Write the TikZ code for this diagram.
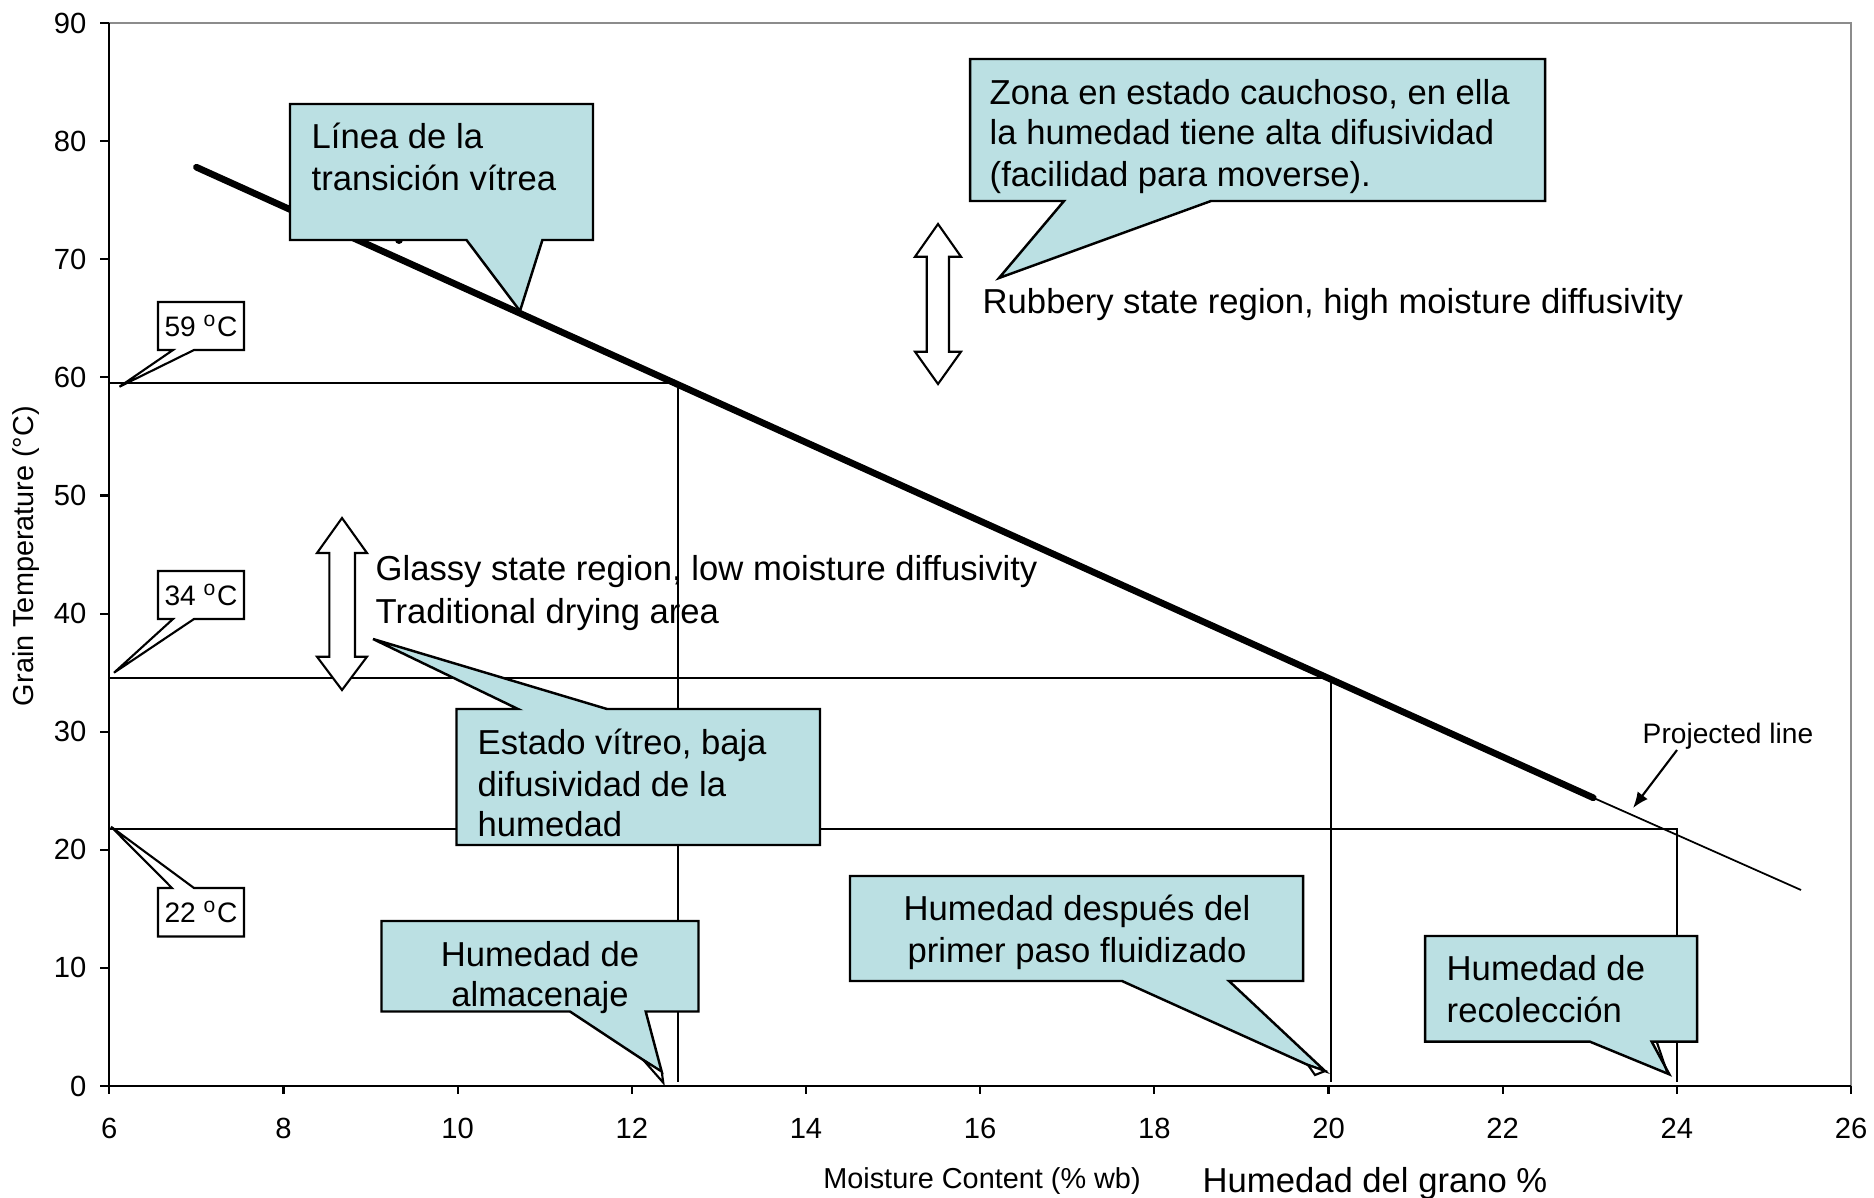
\documentclass[tikz,border=0pt]{standalone}
\usepackage{fontspec}
\setmainfont{Liberation Sans}
\usetikzlibrary{arrows.meta}
\definecolor{cfill}{RGB}{187,224,227}
\definecolor{framegray}{RGB}{140,140,140}
\begin{document}
\begin{tikzpicture}[x=0.01cm,y=-0.01cm,
  axisline/.style={line width=0.6pt,draw=black},
  guide/.style={line width=0.6pt},
  thickline/.style={line width=1.9pt,line cap=round},
  callout/.style={fill=cfill,draw=black,line width=0.7pt,line join=miter},
  tempbox/.style={fill=white,draw=black,line width=0.6pt,line join=miter},
  blockarrow/.style={fill=white,draw=black,line width=0.6pt,line join=miter},
  maintext/.style={font=\fontsize{9.85}{11.7}\selectfont,inner sep=0pt},
  ticklab/.style={font=\fontsize{8.3}{9.5}\selectfont,inner sep=0pt},
  smalltext/.style={font=\fontsize{8}{9.5}\selectfont,inner sep=0pt},
  axtitle/.style={font=\fontsize{8.2}{10}\selectfont,inner sep=0pt}]
\useasboundingbox (0,0) rectangle (1874,1197);

% plot frame
\draw[line width=0.6pt,framegray] (109.3,23) -- (1851,23) -- (1851,1086);
\draw[axisline] (109.3,23) -- (109.3,1086) -- (1851,1086);

% ticks and labels
\foreach \i in {0,...,10}{
  \pgfmathtruncatemacro\lab{6+2*\i}
  \draw[axisline] ({109.3+\i*174.17},1086) -- ({109.3+\i*174.17},1094);
  \node[ticklab] (xl\i) at ({109.3+\i*174.17},1128) {\lab};
}
\foreach \j in {0,...,9}{
  \pgfmathtruncatemacro\lab{10*\j}
  \draw[axisline] (100,{1086-\j*118.1}) -- (109.3,{1086-\j*118.1});
  \node[ticklab,anchor=east] (yl\j) at (87,{1086-\j*118.1}) {\lab};
}

% axis titles
\node[axtitle,rotate=90] (ytitle) at (26,556) {Grain Temperature (°C)};
\node[axtitle,anchor=base] (xtitle) at (982,1188) {Moisture Content (\% wb)};
\node[maintext,anchor=base] (xtitle2) at (1375,1192) {Humedad del grano \%};

% guide lines
\draw[guide] (109.3,383) -- (677.7,383) -- (677.7,1082);
\draw[guide] (109.3,678) -- (1331,678) -- (1331,1082);
\draw[guide] (109.3,829) -- (1677,829) -- (1677,1082);

% glass transition line and projection
\draw[line width=0.5pt] (1593.3,797.8) -- (1801,890);
\fill (399,240) circle (4);
\draw[thickline] (196.4,167.2) -- (1593.3,797.8);

% projected line label
\node[smalltext,anchor=base west] (proj) at (1642,743) {Projected line};
\coordinate (projtail) at (1677,750);
\coordinate (projtip) at (1633,808);
\draw[line width=0.6pt,-{Latex[length=4.5pt,width=3.6pt]}] (projtail) -- (projtip);

% block double arrows
\draw[blockarrow] (938,224) -- (961,256.7) -- (949,256.7) -- (949,351.7) -- (961,351.7)
  -- (938,384) -- (915,351.7) -- (926.7,351.7) -- (926.7,256.7) -- (915,256.7) -- cycle;
\draw[blockarrow] (342,518) -- (367,553) -- (355,553) -- (355,656.7) -- (367,656.7)
  -- (342,690) -- (317,656.7) -- (329.4,656.7) -- (329.4,553) -- (317,553) -- cycle;

% region texts
\node[maintext,anchor=base west] (rubbery) at (982,313) {Rubbery state region, high moisture diffusivity};
\node[maintext,anchor=base west] (glassy) at (375,580) {Glassy state region, low moisture diffusivity};
\node[maintext,anchor=base west] (tradarea) at (375,623) {Traditional drying area};

% temperature boxes
\draw[tempbox] (158,302) -- (244,302) -- (244,350) -- (194,350) -- (119.5,386.7) -- (173,350) -- (158,350) -- cycle;
\node[smalltext] (t59) at (201,326) {59 \textsuperscript{o}C};
\draw[tempbox] (158,571) -- (244,571) -- (244,619) -- (194,619) -- (114,672.7) -- (173,619) -- (158,619) -- cycle;
\node[smalltext] (t34) at (201,595) {34 \textsuperscript{o}C};
\draw[tempbox] (158,888) -- (172,888) -- (111,826.7) -- (194,888) -- (244,888) -- (244,936.5) -- (158,936.5) -- cycle;
\node[smalltext] (t22) at (201,912) {22 \textsuperscript{o}C};

% callout 1
\draw[callout] (290,104) -- (593,104) -- (593,240) -- (542.4,240) -- (520,311) -- (466.5,240) -- (290,240) -- cycle;
\node[maintext,anchor=base west] (c1a) at (311,149) {Línea de la};
\node[maintext,anchor=base west] (c1b) at (311,190) {transición vítrea};

% callout 2
\draw[callout] (970,59) -- (1545,59) -- (1545,201) -- (1211,201) -- (999,278) -- (1064,201) -- (970,201) -- cycle;
\node[maintext,anchor=base west] (c2a) at (989,104) {Zona en estado cauchoso, en ella};
\node[maintext,anchor=base west] (c2b) at (989,145) {la humedad tiene alta difusividad};
\node[maintext,anchor=base west] (c2c) at (989,186) {(facilidad para moverse).};

% callout 3
\draw[callout] (456.5,709) -- (518,709) -- (373,639) -- (607,709) -- (820,709) -- (820,845) -- (456.5,845) -- cycle;
\node[maintext,anchor=base west] (c3a) at (477,754) {Estado vítreo, baja};
\node[maintext,anchor=base west] (c3b) at (477,796) {difusividad de la};
\node[maintext,anchor=base west] (c3c) at (477,836) {humedad};

% callout 4
\draw[callout] (381.5,921) -- (698.5,921) -- (698.5,1011.5) -- (645.7,1011.5) -- (661.7,1071.7) -- (643.3,1060) -- (570,1011.5) -- (381.5,1011.5) -- cycle;
\draw[fill=white,line width=0.6pt,line join=miter] (643.3,1060) -- (663.3,1082.7) -- (661.7,1071.7) -- cycle;
\node[maintext,anchor=base] (c4a) at (540,966) {Humedad de};
\node[maintext,anchor=base] (c4b) at (540,1006) {almacenaje};

% callout 5
\draw[callout] (850,876) -- (1303,876) -- (1303,981) -- (1229,981) -- (1325,1071) -- (1308,1065) -- (1122,981) -- (850,981) -- cycle;
\draw[fill=white,line width=0.6pt,line join=miter] (1308,1065) -- (1315,1075) -- (1325,1071) -- cycle;
\node[maintext,anchor=base] (c5a) at (1077,920) {Humedad después del};
\node[maintext,anchor=base] (c5b) at (1077,962) {primer paso fluidizado};

% callout 6
\draw[callout] (1425,936) -- (1697,936) -- (1697,1041.7) -- (1651.7,1041.7) -- (1669.3,1074.3) -- (1590,1041.7) -- (1425,1041.7) -- cycle;
\draw[line width=0.6pt] (1656.7,1041.7) -- (1667,1072);
\node[maintext,anchor=base west] (c6a) at (1446,980) {Humedad de};
\node[maintext,anchor=base west] (c6b) at (1446,1022) {recolección};
\end{tikzpicture}
\end{document}
